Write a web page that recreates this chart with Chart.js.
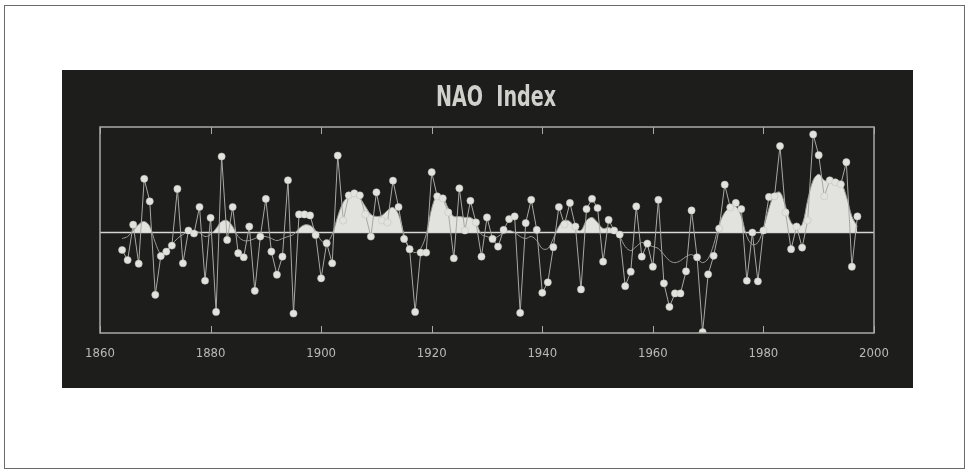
<!DOCTYPE html>
<html>
<head>
<meta charset="utf-8">
<script src="https://cdn.jsdelivr.net/npm/chart.js@4.4.1/dist/chart.umd.min.js"></script>
<style>
  html, body { margin: 0; padding: 0; background: #ffffff; }
  body { width: 967px; height: 471px; position: relative; overflow: hidden; }
  #frame { position: absolute; left: 4px; top: 5px; width: 961px; height: 464px; border: 1px solid #6a6a6a; box-sizing: border-box; }
  #panel { position: absolute; left: 62px; top: 70px; width: 851px; height: 318px; background: #1d1d1b; }
  #panel canvas { display: block; }
</style>
</head>
<body>
<div id="frame"></div>
<div id="panel"><canvas id="c" width="851" height="318"></canvas></div>
<script>
// ---- data ----
const chartTitle = "NAO  Index";
const years = [];
for (let y = 1864; y <= 1997; y++) years.push(y);

const naoAnnual = [
  -0.87, -1.37, 0.39, -1.55, 2.67, 1.55, -3.10, -1.17, -0.95, -0.65,   // 1864-1873
   2.17, -1.53, 0.10, -0.05, 1.27, -2.40, 0.73, -3.95, 3.78, -0.37,    // 1874-1883
   1.27, -1.03, -1.23, 0.30, -2.90, -0.20, 1.67, -0.95, -2.10, -1.20,  // 1884-1893
   2.60, -4.03, 0.90, 0.90, 0.85, -0.12, -2.28, -0.53, -1.53, 3.83,    // 1894-1903
   0.60, 1.85, 1.95, 1.85, 0.90, -0.20, 2.00, 0.60, 0.50, 2.58,        // 1904-1913
   1.27, -0.32, -0.83, -3.95, -1.00, -1.00, 3.00, 1.80, 1.70, 1.00,    // 1914-1923
  -1.28, 2.20, 0.10, 1.58, 0.50, -1.20, 0.75, -0.32, -0.70, 0.13,      // 1924-1933
   0.67, 0.80, -4.00, 0.47, 1.63, 0.13, -3.00, -2.48, -0.73, 1.27,     // 1934-1943
   0.40, 1.47, 0.30, -2.83, 1.17, 1.68, 1.22, -1.45, 0.63, 0.10,       // 1944-1953
  -0.10, -2.67, -1.95, 1.30, -1.20, -0.55, -1.70, 1.63, -2.53, -3.70,  // 1954-1963
  -3.03, -3.03, -1.93, 1.10, -1.23, -4.95, -2.08, -1.16, 0.20, 2.38,   // 1964-1973
   1.25, 1.47, 1.17, -2.40, 0.00, -2.43, 0.10, 1.77, 1.80, 4.30,       // 1974-1983
   1.00, -0.83, 0.30, -0.75, 0.60, 4.88, 3.85, 1.80, 2.60, 2.50,       // 1984-1993
   2.40, 3.50, -1.70, 0.80                                             // 1994-1997
];

const naoSmoothed = [
  -0.30, -0.20, 0.10, 0.40, 0.55, 0.30, -0.50, -1.05, -0.90, -0.60,   // 1864-1873
  -0.30, -0.10, 0.05, 0.05, 0.00, -0.20, -0.10, 0.20, 0.55, 0.60,     // 1874-1883
   0.30, -0.20, -0.40, -0.40, -0.30, -0.20, -0.20, -0.30, -0.40, -0.30, // 1884-1893
  -0.20, -0.10, 0.20, 0.38, 0.35, 0.10, -0.40, -0.50, -0.10, 0.80,    // 1894-1903
   1.50, 1.80, 1.85, 1.70, 1.30, 0.90, 0.80, 0.85, 1.10, 1.25,        // 1904-1913
   0.90, -0.10, -0.80, -1.00, -0.80, -0.10, 1.20, 1.85, 1.75, 1.20,   // 1914-1923
   0.80, 0.80, 0.75, 0.75, 0.50, -0.10, -0.20, -0.30, -0.20, 0.00,    // 1924-1933
   0.10, 0.00, -0.20, -0.30, -0.20, -0.40, -0.80, -0.80, -0.30, 0.30, // 1934-1943
   0.60, 0.55, 0.20, 0.10, 0.60, 0.75, 0.50, 0.20, 0.25, 0.10,        // 1944-1953
  -0.20, -0.70, -0.90, -0.70, -0.50, -0.60, -0.70, -0.80, -1.10, -1.40, // 1954-1963
  -1.50, -1.40, -1.20, -1.10, -1.30, -1.50, -1.30, -0.60, 0.40, 1.00, // 1964-1973
   1.25, 1.30, 0.80, -0.20, -0.60, -0.50, 0.20, 1.20, 1.90, 2.00,     // 1974-1983
   1.30, 0.50, 0.30, 0.40, 1.60, 2.60, 2.90, 2.60, 2.55, 2.60,        // 1984-1993
   2.50, 1.80, 0.80, 0.30                                             // 1994-1997
];

const tickYears = [1860, 1880, 1900, 1920, 1940, 1960, 1980, 2000];

// ---- chart ----
const annualPts = years.map((y, i) => ({ x: y, y: naoAnnual[i] }));
const smoothPts = years.map((y, i) => ({ x: y, y: naoSmoothed[i] }));

const framePlugin = {
  id: 'framePlugin',
  beforeDatasetsDraw(chart) {
    const { ctx, chartArea: a, scales } = chart;
    const y0 = scales.y.getPixelForValue(0);
    ctx.save();
    ctx.strokeStyle = '#d4d4d0';
    ctx.lineWidth = 1.5;
    ctx.beginPath();
    ctx.moveTo(a.left, y0);
    ctx.lineTo(a.right, y0);
    ctx.stroke();
    ctx.restore();
  },
  afterDraw(chart) {
    const { ctx, chartArea: a, scales } = chart;
    ctx.save();
    ctx.strokeStyle = '#a9a9a5';
    ctx.lineWidth = 1.5;
    ctx.strokeRect(a.left, a.top, a.right - a.left, a.bottom - a.top);
    ctx.lineWidth = 1;
    tickYears.forEach(t => {
      const x = Math.round(scales.x.getPixelForValue(t)) + 0.5;
      ctx.beginPath();
      ctx.moveTo(x, a.top); ctx.lineTo(x, a.top + 7);
      ctx.moveTo(x, a.bottom); ctx.lineTo(x, a.bottom - 7);
      ctx.stroke();
    });
    ctx.restore();
    // title (condensed horizontally)
    ctx.save();
    const cx = (a.left + a.right) / 2 + 9;
    ctx.translate(cx, 29);
    ctx.scale(0.76, 1);
    ctx.fillStyle = '#d0d0cc';
    ctx.font = 'bold 28px "DejaVu Sans Condensed", "DejaVu Sans", sans-serif';
    ctx.textAlign = 'center';
    ctx.textBaseline = 'middle';
    ctx.fillText(chartTitle, 0, 0);
    ctx.restore();
  }
};

new Chart(document.getElementById('c'), {
  type: 'line',
  data: {
    datasets: [
      {
        label: 'Annual',
        data: annualPts,
        order: 0,
        borderColor: '#a8a8a4',
        borderWidth: 1,
        pointRadius: 3.6,
        pointBackgroundColor: '#e2e2de',
        pointBorderColor: '#bdbdb8',
        pointBorderWidth: 0.5,
        fill: false,
        tension: 0
      },
      {
        label: 'Smoothed',
        data: smoothPts,
        order: 1,
        borderColor: '#9a9a96',
        borderWidth: 1,
        pointRadius: 0,
        tension: 0.35,
        fill: { target: { value: 0 }, above: '#e2e2de', below: 'rgba(0,0,0,0)' }
      }
    ]
  },
  options: {
    responsive: false,
    animation: false,
    devicePixelRatio: 1,
    layout: { padding: { left: 38, right: 39, top: 57, bottom: 0 } },
    plugins: { legend: { display: false }, tooltip: { enabled: false }, title: { display: false } },
    scales: {
      x: {
        type: 'linear',
        min: 1860,
        max: 2000,
        afterFit: (s) => { s.height = 55; },
        afterBuildTicks: (s) => { s.ticks = tickYears.map(v => ({ value: v })); },
        border: { display: false },
        grid: { display: false, drawTicks: false },
        ticks: {
          color: '#b9b9b5',
          font: { family: '"DejaVu Sans Condensed", sans-serif', size: 13 },
          padding: 13,
          maxRotation: 0,
          callback: (v) => String(v)
        }
      },
      y: {
        type: 'linear',
        min: -5,
        max: 5.25,
        display: false
      }
    }
  },
  plugins: [framePlugin]
});
</script>
</body>
</html>
